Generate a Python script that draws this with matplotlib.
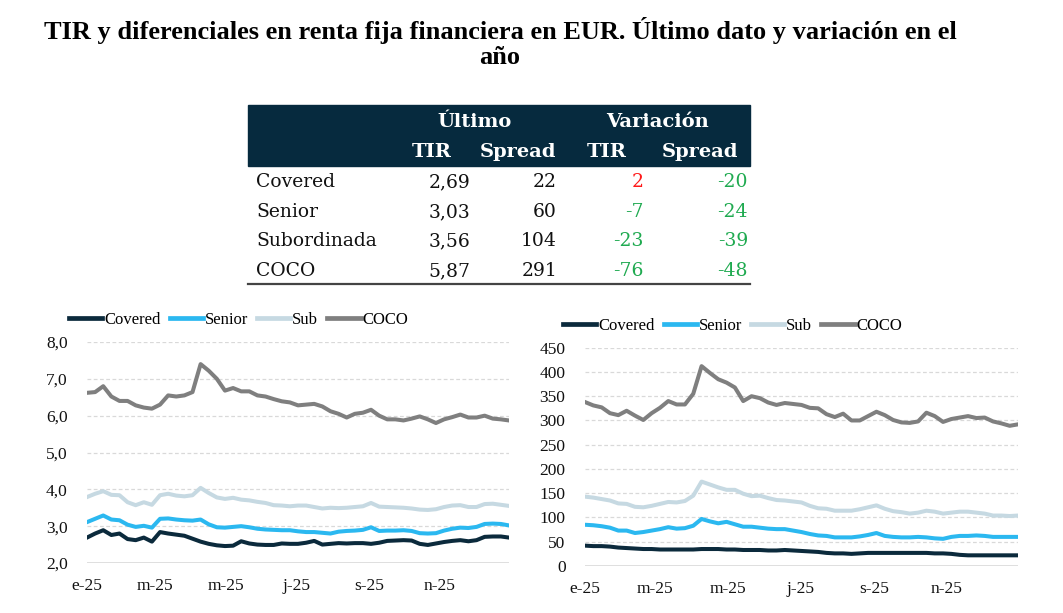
import matplotlib
matplotlib.use("Agg")
import matplotlib.pyplot as plt
import matplotlib.dates as mdates
from matplotlib.ticker import FuncFormatter, FixedLocator
from matplotlib.patches import Rectangle
from matplotlib.lines import Line2D
import pandas as pd

# ---------------- data ----------------
title = "TIR y diferenciales en renta fija financiera en EUR. Último dato y variación en el\naño"

table_rows = ["Covered", "Senior", "Subordinada", "COCO"]
ultimo_tir = ["2,69", "3,03", "3,56", "5,87"]
ultimo_spread = ["22", "60", "104", "291"]
var_tir = [2, -7, -23, -76]
var_spread = [-20, -24, -39, -48]

series_names = ["Covered", "Senior", "Sub", "COCO"]
tick_dates = ["2025-01-01", "2025-03-01", "2025-05-01", "2025-07-01", "2025-09-01", "2025-11-01"]
tick_labels = ["e-25", "m-25", "m-25", "j-25", "s-25", "n-25"]

dates = pd.date_range("2025-01-01", periods=53, freq="7D")

tir_covered = [2.69, 2.80, 2.89, 2.76, 2.80, 2.65, 2.62, 2.69, 2.58, 2.84, 2.80, 2.77, 2.74, 2.66,
               2.58, 2.52, 2.48, 2.46, 2.47, 2.59, 2.53, 2.50, 2.49, 2.49, 2.53, 2.52, 2.52, 2.55,
               2.60, 2.50, 2.52, 2.54, 2.53, 2.54, 2.54, 2.52, 2.55, 2.60, 2.61, 2.62, 2.61, 2.52,
               2.49, 2.53, 2.57, 2.60, 2.62, 2.59, 2.62, 2.71, 2.72, 2.72, 2.69]
tir_senior = [3.11, 3.20, 3.29, 3.18, 3.16, 3.04, 2.98, 3.01, 2.96, 3.20, 3.21, 3.18, 3.16, 3.15,
              3.18, 3.05, 2.97, 2.96, 2.98, 3.00, 2.97, 2.93, 2.91, 2.90, 2.89, 2.89, 2.86, 2.84,
              2.84, 2.82, 2.80, 2.85, 2.87, 2.88, 2.90, 2.97, 2.87, 2.88, 2.88, 2.89, 2.87, 2.81,
              2.80, 2.81, 2.88, 2.93, 2.96, 2.95, 2.98, 3.06, 3.07, 3.06, 3.02]
tir_sub = [3.79, 3.88, 3.95, 3.85, 3.84, 3.65, 3.57, 3.65, 3.58, 3.84, 3.88, 3.83, 3.81, 3.84,
           4.04, 3.90, 3.78, 3.74, 3.77, 3.72, 3.70, 3.66, 3.63, 3.57, 3.56, 3.54, 3.56, 3.56,
           3.52, 3.48, 3.50, 3.49, 3.50, 3.52, 3.54, 3.63, 3.53, 3.52, 3.51, 3.50, 3.48, 3.45,
           3.44, 3.46, 3.52, 3.56, 3.57, 3.52, 3.52, 3.60, 3.61, 3.58, 3.55]
tir_coco = [6.62, 6.64, 6.80, 6.52, 6.40, 6.40, 6.28, 6.22, 6.19, 6.30, 6.55, 6.52, 6.55, 6.64,
            7.40, 7.22, 7.00, 6.68, 6.75, 6.66, 6.66, 6.55, 6.52, 6.45, 6.39, 6.36, 6.28, 6.30,
            6.32, 6.25, 6.12, 6.05, 5.95, 6.05, 6.08, 6.16, 6.00, 5.90, 5.90, 5.87, 5.92, 5.98,
            5.90, 5.80, 5.90, 5.96, 6.03, 5.95, 5.95, 6.00, 5.92, 5.90, 5.87]

spr_covered = [42, 41, 41, 40, 38, 37, 36, 35, 35, 34, 34, 34, 34, 34, 35, 35, 35, 34, 34, 33,
               33, 33, 32, 32, 33, 32, 31, 30, 29, 27, 26, 26, 25, 26, 27, 27, 27, 27, 27, 27,
               27, 27, 26, 26, 25, 23, 22, 22, 22, 22, 22, 22, 22]
spr_senior = [85, 84, 82, 79, 73, 73, 68, 70, 73, 76, 80, 77, 78, 83, 97, 92, 88, 91, 86, 81,
              81, 79, 77, 76, 76, 73, 70, 66, 63, 62, 59, 59, 59, 61, 64, 68, 62, 60, 59, 59,
              60, 59, 57, 56, 60, 62, 62, 63, 62, 60, 60, 60, 60]
spr_sub = [143, 141, 138, 135, 129, 128, 122, 121, 124, 128, 132, 131, 134, 145, 174, 168, 162,
           157, 157, 149, 144, 145, 140, 136, 135, 133, 131, 124, 119, 118, 114, 114, 114, 117,
           121, 125, 118, 113, 111, 108, 110, 114, 112, 108, 110, 112, 112, 110, 108, 104, 104,
           103, 104]
spr_coco = [338, 331, 327, 315, 311, 320, 310, 301, 315, 326, 340, 333, 333, 355, 412, 398, 385,
            378, 368, 340, 350, 346, 337, 332, 336, 334, 332, 326, 325, 313, 307, 314, 300, 300,
            309, 318, 311, 301, 296, 295, 298, 316, 309, 297, 303, 306, 309, 305, 306, 298, 294,
            289, 292]

colors = ["#0b2a3c", "#2bb8f0", "#c6d9e2", "#7f7f7f"]
green = "#1faa50"
red = "#ff1a1a"
navy = "#062a3e"

# ---------------- figure ----------------
W, H = 1063, 613
fig = plt.figure(figsize=(W / 100, H / 100), dpi=100)

def fx(px):
    return px / W

def fy(py):
    return 1 - py / H

fig.text(fx(500), fy(43), title, ha="center", va="center", fontsize=19,
         fontweight="bold", family="Liberation Serif", linespacing=1.15)

# ---------------- table ----------------
tfont = "DejaVu Serif"
fig.patches.append(Rectangle((fx(248), fy(166)), fx(750) - fx(248), fy(105) - fy(166),
                             transform=fig.transFigure, color=navy, zorder=1))
fig.lines.append(Line2D([fx(248), fx(750)], [fy(284), fy(284)], transform=fig.transFigure,
                        color="#444444", lw=1.6))
hdr = dict(color="white", fontweight="bold", fontsize=14, family=tfont, va="center", zorder=2)
fig.text(fx(475), fy(122), "Último", ha="center", **hdr)
fig.text(fx(657), fy(122), "Variación", ha="center", **hdr)
fig.text(fx(452), fy(152), "TIR", ha="right", **hdr)
fig.text(fx(556), fy(152), "Spread", ha="right", **hdr)
fig.text(fx(627), fy(152), "TIR", ha="right", **hdr)
fig.text(fx(738), fy(152), "Spread", ha="right", **hdr)

row_y = [182, 212, 241, 271]
body = dict(fontsize=13.5, family=tfont, va="center")
for i, name in enumerate(table_rows):
    y = fy(row_y[i])
    fig.text(fx(256), y, name, ha="left", color="#111111", **body)
    fig.text(fx(470), y, ultimo_tir[i], ha="right", color="#111111", **body)
    fig.text(fx(557), y, ultimo_spread[i], ha="right", color="#111111", **body)
    fig.text(fx(644), y, str(var_tir[i]), ha="right",
             color=red if var_tir[i] > 0 else green, **body)
    fig.text(fx(748), y, str(var_spread[i]), ha="right",
             color=red if var_spread[i] > 0 else green, **body)

# ---------------- charts ----------------
sfont = "Liberation Serif"

def style_axis(ax, ylim, yticks, fmt):
    ax.set_ylim(*ylim)
    ax.yaxis.set_major_locator(FixedLocator(yticks))
    ax.yaxis.set_major_formatter(FuncFormatter(fmt))
    ax.set_xlim(dates[0], dates[-1])
    ax.xaxis.set_major_locator(FixedLocator([mdates.date2num(pd.Timestamp(d)) for d in tick_dates]))
    ax.xaxis.set_major_formatter(FuncFormatter(lambda v, p: tick_labels[p] if p is not None and p < len(tick_labels) else ""))
    for s in ax.spines.values():
        s.set_visible(False)
    ax.tick_params(length=0, labelsize=12.5, colors="#111111")
    ax.tick_params(axis="x", pad=11)
    ax.tick_params(axis="y", pad=14)
    for lab in ax.get_xticklabels() + ax.get_yticklabels():
        lab.set_family(sfont)
    for t in yticks[1:]:
        ax.axhline(t, color="#d9d9d9", lw=0.9, ls=(0, (3, 2)), zorder=0)
    ax.axhline(yticks[0], color="#d9d9d9", lw=1.2, zorder=0)

def draw(ax, data):
    for k in range(4):
        ax.plot(dates, data[k], color=colors[k], lw=2.9, label=series_names[k],
                solid_joinstyle="round", zorder=3)

leg_kw = dict(loc="center left", bbox_transform=fig.transFigure, ncol=4, frameon=False,
              handlelength=2.0, handletextpad=0.1, columnspacing=0.55,
              prop={"family": sfont, "size": 12}, borderaxespad=0, borderpad=0)

ax1 = fig.add_axes([fx(87), fy(563), fx(509) - fx(87), fy(342) - fy(563)])
style_axis(ax1, (2.0, 8.0), [2, 3, 4, 5, 6, 7, 8], lambda v, p: f"{v:.1f}".replace(".", ","))
draw(ax1, [tir_covered, tir_senior, tir_sub, tir_coco])
ax1.legend(bbox_to_anchor=(fx(69), fy(320)), **leg_kw)

ax2 = fig.add_axes([fx(585), fy(566), fx(1018) - fx(585), fy(347.7) - fy(566)])
style_axis(ax2, (0, 450), [0, 50, 100, 150, 200, 250, 300, 350, 400, 450], lambda v, p: f"{v:.0f}")
draw(ax2, [spr_covered, spr_senior, spr_sub, spr_coco])
ax2.legend(bbox_to_anchor=(fx(563), fy(326)), **leg_kw)

for ax in (ax1, ax2):
    leg = ax.get_legend()
    for h in leg.legend_handles:
        h.set_linewidth(3.4)

fig.savefig("out.png", dpi=100)
